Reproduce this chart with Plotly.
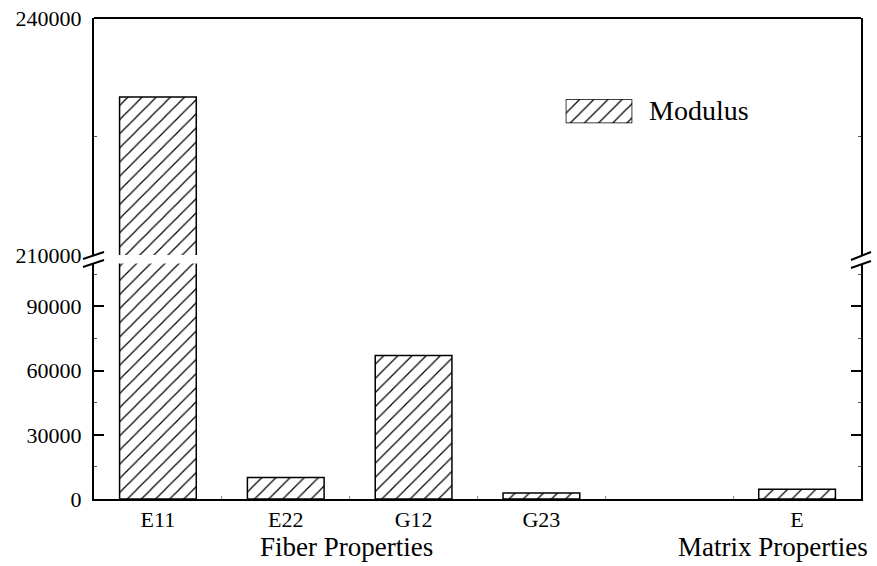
import plotly.graph_objects as go

# ---- data ----
categories = ["E11", "E22", "G12", "G23", " ", "E"]
modulus = [230000, 10000, 67000, 2800, None, 4600]
series_name = "Modulus"
group_labels = ["Fiber Properties", "Matrix Properties"]
lower_ticks = [0, 30000, 60000, 90000]
upper_ticks = [210000, 240000]

W, H = 877, 566
ML, MR, MT, MB = 94, 16, 18, 67
PW, PH = W - ML - MR, H - MT - MB


def px_x(p):
    return (p - ML) / PW


def px_y(p):
    return (H - MB - p) / PH


FONT = "Liberation Serif"
pattern = dict(shape="/", size=10, solidity=0.12, fgcolor="black", bgcolor="white", fillmode="replace")
bar_line = dict(color="black", width=1.5)

fig = go.Figure()
fig.add_trace(go.Bar(x=categories, y=modulus, xaxis="x", yaxis="y", width=0.6,
                     marker=dict(color="white", pattern=pattern, line=bar_line),
                     name=series_name, showlegend=False))
fig.add_trace(go.Bar(x=categories, y=modulus, xaxis="x", yaxis="y2", width=0.6,
                     marker=dict(color="white", pattern=pattern, line=bar_line),
                     name=series_name, showlegend=False))
# legend swatch
fig.add_trace(go.Bar(x=[series_name], y=[1], xaxis="x3", yaxis="y3", width=1,
                     marker=dict(color="white", pattern=pattern, line=dict(color="black", width=1.5)),
                     name=series_name, showlegend=False, hoverinfo="skip"))

lower_top = 0.4894
upper_bot = 0.5072

yax_common = dict(showline=True, linecolor="black", linewidth=2, mirror="ticks",
                  ticks="inside", ticklen=10, tickwidth=1.5, tickcolor="black",
                  showgrid=False, zeroline=False, automargin=False,
                  tickfont=dict(family=FONT, size=22, color="black"),
                  ticklabelstandoff=6)

fig.update_layout(
    width=W, height=H,
    margin=dict(l=ML, r=MR, t=MT, b=MB, autoexpand=False),
    paper_bgcolor="white", plot_bgcolor="white",
    bargap=0.4,
    xaxis=dict(domain=[0, 1], anchor="y", range=[-0.5, 5.5], type="category",
               showline=True, linecolor="black", linewidth=2, automargin=False,
               ticks="inside", tickson="boundaries", ticklen=3, tickcolor="#888", tickwidth=1,
               showgrid=False,
               tickfont=dict(family=FONT, size=22, color="black")),
    yaxis=dict(domain=[0, lower_top], range=[0, 110000], tickmode="array",
               tickvals=lower_ticks, ticktext=[str(v) for v in lower_ticks],
               minor=dict(ticks="inside", ticklen=3, tickwidth=1, tickcolor="#555",
                          tickmode="linear", tick0=0, dtick=15000),
               **yax_common),
    yaxis2=dict(domain=[upper_bot, 1], range=[210000, 240000], anchor="x", tickmode="array",
                tickvals=upper_ticks, ticktext=[str(v) for v in upper_ticks],
                minor=dict(ticks="inside", ticklen=3, tickwidth=1, tickcolor="#555",
                           tickmode="linear", tick0=210000, dtick=15000),
                **yax_common),
    xaxis3=dict(domain=[px_x(565.7), px_x(632.3)], anchor="y3", visible=False, fixedrange=True),
    yaxis3=dict(domain=[px_y(123.3), px_y(99.3)], anchor="x3", range=[0, 1], visible=False, fixedrange=True),
)

shapes = []
# top frame
shapes.append(dict(type="line", xref="paper", yref="paper", x0=0, x1=1, y0=1, y1=1,
                   line=dict(color="black", width=2)))
# break marks
for (x0, y0, x1, y1) in [(83, 259, 104, 252), (83, 267, 104, 260),
                         (851, 260, 871, 252), (851, 268, 871, 261)]:
    shapes.append(dict(type="line", xref="paper", yref="paper",
                       x0=px_x(x0), y0=px_y(y0), x1=px_x(x1), y1=px_y(y1),
                       line=dict(color="black", width=2)))
fig.update_layout(shapes=shapes)

fig.add_annotation(text=series_name, xref="paper", yref="paper", x=px_x(647), y=px_y(111),
                   xanchor="left", yanchor="middle", showarrow=False,
                   font=dict(family=FONT, size=28, color="black"))
fig.add_annotation(text=group_labels[0], xref="paper", yref="paper", x=px_x(346), y=px_y(547),
                   xanchor="center", yanchor="middle", showarrow=False,
                   font=dict(family=FONT, size=27, color="black"))
fig.add_annotation(text=group_labels[1], xref="paper", yref="paper", x=px_x(773), y=px_y(547),
                   xanchor="center", yanchor="middle", showarrow=False,
                   font=dict(family=FONT, size=27, color="black"))

fig.write_html("out.html")
